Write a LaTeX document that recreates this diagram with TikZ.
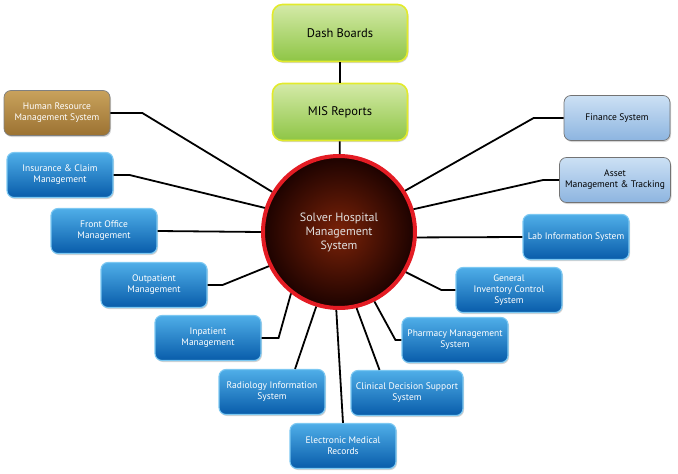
\documentclass[tikz,border=0pt]{standalone}
\usepackage{fontspec}
\setmainfont{PT Sans}
\usetikzlibrary{shadows}

\definecolor{blueTop}{HTML}{4FAEE8}
\definecolor{blueBottom}{HTML}{085CAA}
\definecolor{blueRim}{HTML}{7CC8F2}
\definecolor{paleTop}{HTML}{CCE0F4}
\definecolor{paleBottom}{HTML}{8DB5E0}
\definecolor{brownTop}{HTML}{C9A25C}
\definecolor{brownBottom}{HTML}{9C7232}
\definecolor{greenTop}{HTML}{D4EAA8}
\definecolor{greenBottom}{HTML}{8EC545}
\definecolor{greenRim}{HTML}{E2EA2C}
\definecolor{hubInner}{HTML}{7A2208}
\definecolor{hubOuter}{HTML}{1C0200}
\definecolor{hubRing}{HTML}{E41C24}

\begin{document}
\begin{tikzpicture}
[x=1pt,y=-1pt,
  every node/.style={align=center,inner sep=2pt},
  boxShadow/.style={drop shadow={opacity=0.35,shadow xshift=1pt,shadow yshift=-1.5pt}},
  blueBox/.style={boxShadow,rounded corners=7pt,minimum width=106pt,minimum height=45pt,
    top color=blueTop,bottom color=blueBottom,draw=blueRim,line width=1.1pt,
    text=white,font=\fontsize{9.5}{11}\selectfont},
  paleBox/.style={blueBox,top color=paleTop,bottom color=paleBottom,draw=black!55,
    line width=0.7pt,text=black},
  brownBox/.style={blueBox,top color=brownTop,bottom color=brownBottom,draw=black!50,
    line width=0.7pt},
  greenBox/.style={boxShadow,rounded corners=10pt,minimum width=135pt,minimum height=57pt,
    top color=greenTop,bottom color=greenBottom,draw=greenRim,line width=1.6pt,
    font=\fontsize{12.5}{14}\selectfont},
  hubCircle/.style={boxShadow,circle,minimum size=152pt,shading=radial,
    inner color=hubInner,outer color=hubOuter,draw=hubRing,line width=4pt,
    text=white!88!black,font=\fontsize{12}{14}\selectfont},
  lineDecorate/.style={-,line width=1.8pt,black}]
\useasboundingbox (0,0) rectangle (678,474);

% centre and top row
\node[hubCircle] (hub) at (339,232) {Solver Hospital\\Management\\System};
\node[greenBox] (dash) at (340,33) {Dash Boards};
\node[greenBox] (mis) at (340,112) {MIS Reports};

% left side
\node[brownBox] (hr) at (57,113) {Human Resource\\Management System};
\node[blueBox] (insurance) at (60,175) {Insurance \& Claim\\Management};
\node[blueBox] (front) at (104,231) {Front Office\\Management};
\node[blueBox] (outpatient) at (154,285) {Outpatient\\Management};
\node[blueBox] (inpatient) at (208,338) {Inpatient\\Management};

% bottom
\node[blueBox] (radiology) at (272,392) {Radiology Information\\System};
\node[blueBox] (emr) at (343,446) {Electronic Medical\\Records};
\node[blueBox,minimum width=112pt] (clinical) at (407,393) {Clinical Decision Support\\System};

% right side
\node[blueBox] (pharmacy) at (455,340) {Pharmacy Management\\System};
\node[blueBox] (inventory) at (509,290) {General\\Inventory Control\\System};
\node[blueBox] (lab) at (576,237) {Lab Information System};
\node[paleBox,minimum width=111pt] (asset) at (615,180) {Asset\\Management \& Tracking};
\node[paleBox] (finance) at (617,118) {Finance System};

\draw[lineDecorate] (dash) -- (mis);
\draw[lineDecorate] (mis) -- (hub);
\foreach \startNode/\stub/\hubAngle in {
  hr.east/32/149, insurance.east/16/162, front.east/0/180,
  outpatient.east/15/206, inpatient.east/17/232, radiology.45/0/253,
  emr.north/0/268, clinical.140/0/283, pharmacy.west/-6/297,
  inventory.west/-14/329, lab.west/0/356, asset.west/-16/17,
  finance.west/-30/32}
{
  \draw[lineDecorate] (\startNode) -- ++(\stub,0) -- (hub.\hubAngle);
};
\end{tikzpicture}
\end{document}
